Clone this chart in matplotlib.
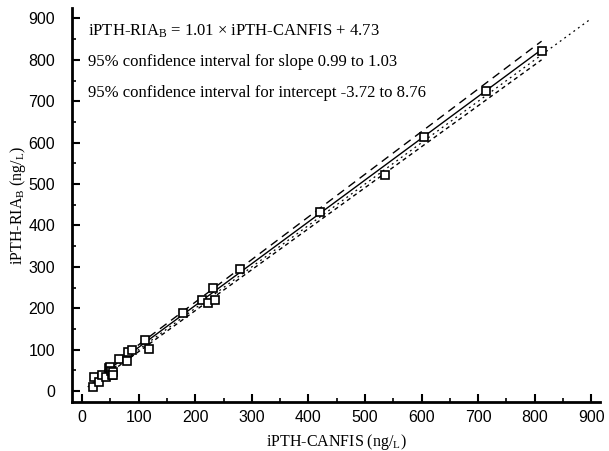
import matplotlib
matplotlib.use("Agg")
import matplotlib.pyplot as plt
import numpy as np
from matplotlib.ticker import MultipleLocator

plt.rcParams['mathtext.fontset'] = 'custom'
plt.rcParams['mathtext.rm'] = 'Liberation Serif'
plt.rcParams['mathtext.it'] = 'Liberation Serif:italic'

canfis = [20, 22, 30, 36, 42, 47, 50, 52, 53, 55, 55, 66, 80, 81, 88,
          111, 118, 178, 212, 222, 231, 235, 279, 420, 535, 605, 713, 812]
ria_b = [10, 33, 22, 38, 34, 55, 58, 48, 40, 45, 38, 77, 72, 94, 99,
         123, 101, 188, 219, 212, 248, 219, 296, 433, 521, 614, 726, 821]

slope, intercept = 1.01, 4.73
slope_hi, int_hi = 1.03, 8.76
slope_lo, int_lo = 0.99, -3.72

serif = 'Liberation Serif'
sans = 'Liberation Sans'

fig = plt.figure(figsize=(6.09, 4.51), dpi=100)
ax = fig.add_axes([0.118, 0.109, 0.867, 0.873])

xfit = np.array([min(canfis), max(canfis)])
ax.plot([10, 900], [10, 900], ls=(0, (1.5, 3)), color='black', lw=0.9)
ax.plot(xfit, slope * xfit + intercept, color='black', lw=1.0)
ax.plot(xfit, slope_hi * xfit + int_hi, ls=(0, (6, 4)), color='black', lw=1.0)
ax.plot(xfit, slope_lo * xfit + int_lo, ls=(0, (3, 2.5)), color='black', lw=1.0)
ax.plot(canfis, ria_b, ls='none', marker='s', ms=6, mfc='white',
        mec='black', mew=1.2)

ax.set_xlim(-18, 915)
ax.set_ylim(-26, 925)
ax.xaxis.set_major_locator(MultipleLocator(100))
ax.xaxis.set_minor_locator(MultipleLocator(50))
ax.yaxis.set_major_locator(MultipleLocator(100))
ax.yaxis.set_minor_locator(MultipleLocator(50))
ax.tick_params(which='major', direction='in', length=6, width=1.5,
               labelsize=11.5)
ax.tick_params(axis='y', which='major', pad=12)
ax.tick_params(axis='x', which='major', pad=6)
ax.tick_params(which='minor', direction='in', length=3, width=1.2)
for lab in ax.get_xticklabels() + ax.get_yticklabels():
    lab.set_fontfamily(sans)

for side in ['top', 'right']:
    ax.spines[side].set_visible(False)
for side in ['left', 'bottom']:
    ax.spines[side].set_linewidth(2)

ax.set_xlabel(r'iPTH-CANFIS (ng/$_{\mathrm{L}}$)', fontfamily=serif,
              fontsize=11.5, labelpad=5)
ax.set_ylabel(r'iPTH-RIA$_{\mathrm{B}}$ (ng/$_{\mathrm{L}}$)', fontfamily=serif,
              fontsize=11.5, labelpad=0)

ax.text(10, 870, r'iPTH-RIA$_{\mathrm{B}}$ = 1.01 $\times$ iPTH-CANFIS + 4.73',
        fontfamily=serif, fontsize=12, va='center')
ax.text(10, 795, '95% confidence interval for slope 0.99 to 1.03',
        fontfamily=serif, fontsize=12, va='center')
ax.text(10, 720, '95% confidence interval for intercept -3.72 to 8.76',
        fontfamily=serif, fontsize=12, va='center')

fig.savefig('out.png', dpi=100)
